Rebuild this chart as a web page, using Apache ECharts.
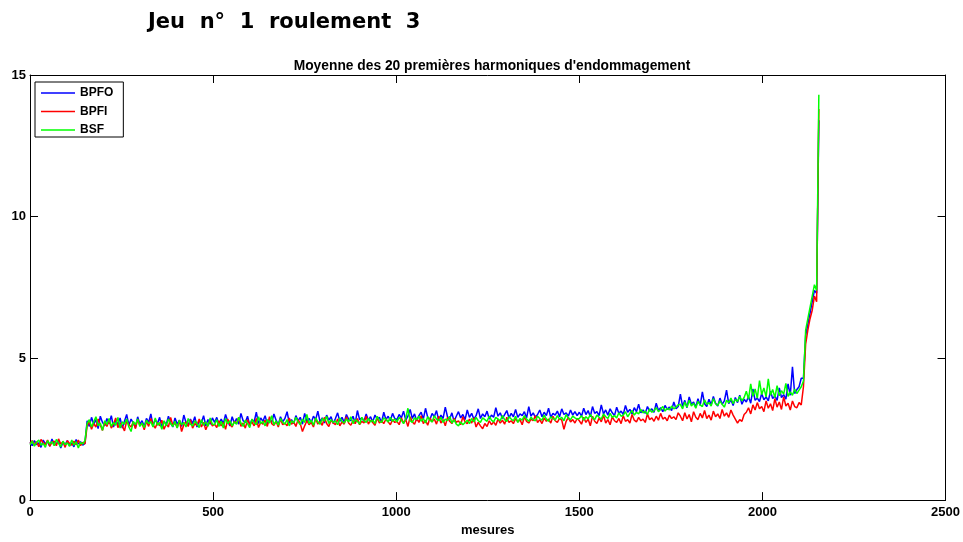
<!DOCTYPE html>
<html>
<head>
<meta charset="utf-8">
<script src="https://cdn.jsdelivr.net/npm/echarts@6/dist/echarts.min.js"></script>
<style>
html,body{margin:0;padding:0;background:#fff;}
#c{width:963px;height:542px;}
</style>
</head>
<body>
<div id="c"></div>
<script>
// Pas entre deux mesures échantillonnées (lecture du graphique)
const pas = 6;

const bpfo = [
2.04,1.92,2.10,1.96,2.02,1.86,2.12,1.98,2.06,1.90,2.16,1.94,2.00,2.08,1.84,2.04,1.96,2.10,1.92,2.02,1.88,2.14,1.98,2.06,1.94,2.00,
2.80,2.60,2.92,2.68,2.84,2.52,2.96,2.74,2.62,2.88,
2.70,2.98,2.58,2.82,2.66,2.90,2.54,2.78,3.02,2.64,
2.86,2.72,2.56,2.94,2.68,2.80,2.60,2.88,2.74,3.04,
2.62,2.84,2.70,2.92,2.56,2.78,2.66,2.96,2.72,2.58,
2.90,2.68,2.82,2.60,3.00,2.74,2.64,2.86,2.70,2.94,
2.58,2.80,2.72,2.98,2.62,2.84,2.68,2.90,
2.74,2.92,2.66,2.86,2.70,3.02,2.78,2.62,2.94,2.72,
2.88,2.68,3.06,2.80,2.74,2.96,2.64,2.84,2.76,3.10,
2.70,2.90,2.78,2.98,2.68,2.86,2.74,3.04,2.82,2.66,
2.94,2.76,2.88,3.12,2.72,2.84,2.70,2.98,2.80,2.92,
2.68,3.06,2.78,2.88,2.74,2.96,2.84,3.14,2.76,2.90,
2.72,3.00,2.82,2.94,2.70,2.88,3.08,2.78,2.92,2.74,
3.02,2.86,2.80,2.96,2.72,3.16,2.84,2.90,2.78,3.04,
2.82,2.94,2.76,3.00,2.86,2.92,2.74,3.10,2.84,2.96,
2.80,3.06,2.88,
2.84,3.02,2.90,3.14,2.82,2.96,3.20,2.88,3.04,2.80,
2.98,3.10,2.86,3.24,2.92,2.84,3.06,2.94,3.16,2.82,
3.00,2.88,3.28,2.94,2.86,3.08,2.78,2.96,3.12,2.90,
3.02,2.84,3.18,2.92,3.06,2.86,2.98,3.22,2.88,3.04,
2.94,3.14,2.86,3.00,2.92,3.26,2.96,3.08,2.88,3.02,
3.16,2.90,3.06,2.94,3.20,2.92,3.04,2.98,3.12,2.90,
3.30,2.96,3.08,2.92,3.02,3.18,2.94,3.10,2.98,3.24,
2.92,3.06,3.00,3.14,2.94,3.22,3.02,3.08,2.96,3.18,
3.00,3.12,2.98,
3.10,2.96,3.24,3.02,3.16,2.94,3.30,3.06,3.12,2.98,
3.36,3.04,3.18,3.00,3.22,3.08,2.98,3.28,3.06,3.14,
3.02,3.34,3.10,3.20,3.04,3.26,3.12,3.38,3.08,3.18,
3.06,3.30,3.14,3.22,3.10,3.42,3.16,3.26,3.12,3.34,
3.20,3.28,3.16,3.46,3.22,3.30,
3.74,3.30,3.52,3.26,3.64,3.38,3.46,3.28,3.58,3.34,
3.82,3.40,3.30,3.56,3.36,3.66,3.42,3.32,3.60,3.38,
3.50,3.88,3.40,3.54,3.34,3.62,3.44,3.70,3.38,3.56,
3.46,3.66,3.42,3.92,3.52,3.60,3.48,3.76,3.54,3.64,
3.50,3.84,3.58,3.68,3.52,3.96,3.62,3.72,3.56,4.10,
3.70,4.70,3.76,3.90,4.00,4.30,
4.30,5.80,6.20,6.60,7.00,7.40,7.30,13.40
];

const bpfi = [
2.00,2.10,1.94,2.06,1.88,2.14,2.02,1.96,2.12,1.90,2.04,2.08,1.92,2.16,1.98,2.06,1.86,2.10,2.00,1.94,2.08,1.96,2.12,1.92,2.04,1.98,
2.62,2.78,2.50,2.70,2.58,2.86,2.64,2.46,2.74,2.60,
2.82,2.54,2.68,2.90,2.56,2.72,2.62,2.44,2.80,2.66,
2.58,2.76,2.52,2.84,2.64,2.70,2.48,2.78,2.60,2.88,
2.66,2.54,2.74,2.62,2.82,2.50,2.68,2.58,2.92,2.64,
2.72,2.56,2.80,2.42,2.66,2.76,2.60,2.84,2.54,2.70,
2.64,2.86,2.58,2.74,2.48,2.68,2.80,2.62,
2.68,2.56,2.80,2.62,2.74,2.50,2.86,2.66,2.58,2.78,
2.70,2.92,2.60,2.72,2.54,2.84,2.66,2.76,2.62,2.88,
2.56,2.74,2.68,2.82,2.60,2.94,2.70,2.64,2.78,2.58,
2.86,2.66,2.72,2.62,2.90,2.68,2.76,2.60,2.84,2.70,
2.42,2.62,2.80,2.66,2.74,2.58,2.88,2.68,2.78,2.64,
2.92,2.70,2.60,2.82,2.72,2.66,2.86,2.62,2.76,2.68,
2.94,2.72,2.64,2.80,2.70,2.88,2.66,2.78,2.72,2.96,
2.68,2.82,2.74,2.64,2.90,2.72,2.80,2.70,2.86,2.76,
2.66,2.84,2.74,
2.78,2.66,2.90,2.72,2.84,2.60,2.94,2.76,2.68,2.88,
2.74,2.98,2.70,2.82,2.64,2.90,2.76,2.86,2.68,2.96,
2.72,2.84,2.62,2.92,2.78,2.70,2.88,2.74,2.80,2.66,
2.94,2.76,2.70,2.86,2.72,2.90,2.58,2.74,2.62,2.52,
2.70,2.60,2.80,2.66,2.76,2.64,2.86,2.72,2.82,2.68,
2.92,2.74,2.80,2.70,2.88,2.76,2.84,2.66,2.94,2.78,
2.72,2.86,2.80,2.98,2.74,2.84,2.70,2.90,2.78,2.86,
2.72,2.96,2.80,2.74,2.88,2.82,2.50,2.78,2.92,2.76,
2.84,2.72,2.88,
2.80,2.68,2.92,2.74,2.86,2.62,2.96,2.78,2.70,2.90,
2.76,3.00,2.72,2.84,2.66,2.94,2.80,2.74,2.88,2.70,
2.98,2.78,2.84,2.72,3.02,2.82,2.76,2.92,2.80,2.86,
2.74,3.04,2.84,2.90,2.78,2.96,2.82,3.06,2.86,2.92,
2.80,3.00,2.88,2.94,2.84,3.08,
2.96,2.80,3.08,2.86,3.02,2.76,3.12,2.92,2.84,3.06,
2.90,3.16,2.88,3.00,2.82,3.14,2.94,3.04,2.88,3.20,
2.96,3.08,2.92,3.18,3.00,2.86,2.72,2.84,2.78,3.02,
3.10,3.26,3.04,3.36,3.18,3.44,3.22,3.30,3.12,3.50,
3.24,3.40,3.16,3.58,3.28,3.46,3.20,3.64,3.32,3.42,
3.18,3.50,3.30,3.26,3.44,3.36,
4.00,5.50,6.00,6.40,6.70,7.20,7.00,13.80
];

const bsf = [
1.96,2.08,1.90,2.04,2.12,1.94,2.00,1.86,2.10,1.98,2.06,1.92,2.14,2.00,1.88,2.08,1.96,2.02,1.90,2.12,1.94,2.06,1.84,2.04,1.98,2.10,
2.70,2.84,2.58,2.76,2.94,2.62,2.72,2.46,2.80,2.66,
2.88,2.60,2.74,2.64,2.92,2.54,2.76,2.68,2.86,2.58,
2.42,2.78,2.66,2.86,2.60,2.72,2.56,2.82,2.70,2.76,
2.58,2.90,2.64,2.74,2.50,2.80,2.62,2.86,2.70,2.60,
2.78,2.54,2.82,2.66,2.74,2.58,2.88,2.68,2.62,2.80,
2.70,2.56,2.84,2.64,2.76,2.60,2.90,2.68,
2.66,2.84,2.60,2.78,2.54,2.88,2.70,2.80,2.62,2.76,
2.68,2.92,2.72,2.60,2.82,2.70,2.56,2.86,2.74,2.66,
2.94,2.70,2.78,2.62,2.84,2.72,2.98,2.66,2.80,2.64,
2.88,2.74,2.68,2.84,2.62,2.80,2.72,2.92,2.76,2.66,
2.86,2.74,3.02,2.70,2.82,2.64,2.90,2.76,2.68,2.88,
2.78,2.96,2.70,2.84,2.74,2.80,2.66,2.90,2.78,2.72,
2.86,2.76,2.94,2.70,2.84,2.78,2.68,2.92,2.80,2.74,
2.88,2.76,2.82,2.70,2.96,2.80,2.74,2.90,2.84,2.76,
2.92,2.78,2.86,
2.76,2.92,2.82,2.70,2.88,3.24,2.80,2.74,2.90,2.84,
2.96,2.78,2.88,2.72,2.94,2.82,2.76,2.98,2.86,2.80,
2.92,2.74,2.86,2.80,2.96,2.72,2.84,2.68,2.62,2.76,
2.66,2.74,2.82,2.70,2.88,2.76,2.92,2.80,2.74,2.90,
2.84,2.78,2.96,2.82,2.76,2.92,2.86,2.80,2.98,2.84,
2.78,2.94,2.86,2.80,2.96,2.74,2.88,2.82,2.98,2.86,
2.78,2.92,2.84,2.80,2.96,2.88,2.82,3.00,2.86,2.78,
2.94,2.88,2.82,2.98,2.86,2.92,2.80,3.02,2.88,2.84,
2.96,2.90,2.86,
2.88,2.98,2.82,2.94,2.86,3.02,2.90,2.84,3.00,2.92,
2.86,3.04,2.94,2.88,3.06,2.92,2.98,2.90,3.08,2.96,
3.00,3.12,2.94,3.06,3.16,3.00,3.10,3.04,3.20,3.08,
3.14,3.02,3.22,3.10,3.16,3.26,3.12,3.20,3.30,3.14,
3.24,3.18,3.32,3.22,3.28,3.36,
3.38,3.22,3.46,3.28,3.52,3.32,3.42,3.24,3.48,3.36,
3.30,3.54,3.38,3.44,3.32,3.58,3.40,3.34,3.50,3.38,
3.28,3.52,3.44,3.60,3.40,3.56,3.48,3.66,3.50,3.62,
3.84,3.56,4.10,3.66,3.92,3.60,4.22,3.72,3.96,3.64,
4.28,3.70,3.90,3.62,4.04,3.68,3.86,3.74,4.12,3.66,
3.82,3.70,3.92,3.76,3.88,4.00,
4.20,6.00,6.40,6.80,7.20,7.60,7.40,14.30
];

const seriesNames = ['BPFO', 'BPFI', 'BSF'];
const seriesColors = ['#0000ff', '#ff0000', '#00ff00'];
const xTicks = [0, 500, 1000, 1500, 2000, 2500];
const yTicks = [0, 5, 10, 15];

const toPairs = arr => arr.map((v, i) => [i * pas, v]);

const chart = echarts.init(document.getElementById('c'), null, {renderer: 'canvas'});
const lbl = {fontFamily: 'Liberation Sans, Arial, sans-serif', fontWeight: 'bold', fontSize: 13, color: '#000'};
const axisCommon = {
  axisLine: {show: true, onZero: false, lineStyle: {color: '#000', width: 1}},
  axisTick: {show: true, inside: true, length: 8, lineStyle: {color: '#000', width: 1}},
  splitLine: {show: false}
};
const dataSets = [bpfo, bpfi, bsf];
chart.setOption({
  animation: false,
  backgroundColor: '#fff',
  title: [
    {text: 'Jeu  n°  1  roulement  3', left: 143, top: 7,
     textStyle: {fontFamily: 'DejaVu Sans, sans-serif', fontWeight: 'bold', fontSize: 21, color: '#000'}},
    {text: "Moyenne des 20 premières harmoniques d'endommagement", left: 487, top: 54, textAlign: 'center',
     textStyle: {fontFamily: 'Liberation Sans, Arial, sans-serif', fontWeight: 'bold', fontSize: 13.8, color: '#000'}}
  ],
  legend: {
    left: 35, top: 82, orient: 'vertical',
    backgroundColor: '#fff', borderColor: '#000', borderWidth: 1,
    padding: [5, 10, 1, 6], itemWidth: 34, itemHeight: 12, itemGap: 6.5,
    textStyle: {fontFamily: 'Liberation Sans, Arial, sans-serif', fontWeight: 'bold', fontSize: 12, color: '#000'},
    data: seriesNames.map((n, i) => ({
      name: n, icon: 'path://M0,0h34v1.3h-34z',
      itemStyle: {color: seriesColors[i], borderWidth: 0},
      lineStyle: {color: seriesColors[i]}
    }))
  },
  grid: {left: 30, right: 16, top: 75, bottom: 36, containLabel: false},
  xAxis: [
    Object.assign({type: 'value', min: xTicks[0], max: xTicks[xTicks.length - 1], interval: 500, position: 'bottom',
      name: 'mesures', nameLocation: 'middle', nameGap: 23, nameTextStyle: lbl,
      axisLabel: Object.assign({margin: 6, formatter: v => String(v)}, lbl)}, axisCommon),
    Object.assign({type: 'value', min: xTicks[0], max: xTicks[xTicks.length - 1], interval: 500, position: 'top',
      axisLabel: {show: false}}, axisCommon)
  ],
  yAxis: [
    Object.assign({type: 'value', min: yTicks[0], max: yTicks[yTicks.length - 1], interval: 5, position: 'left',
      axisLabel: Object.assign({margin: 4, formatter: v => String(v)}, lbl)}, axisCommon),
    Object.assign({type: 'value', min: yTicks[0], max: yTicks[yTicks.length - 1], interval: 5, position: 'right',
      axisLabel: {show: false}}, axisCommon)
  ],
  series: seriesNames.map((n, i) => ({
    name: n, type: 'line', data: toPairs(dataSets[i]), symbol: 'none', showSymbol: false,
    lineStyle: {color: seriesColors[i], width: 1.5}, itemStyle: {color: seriesColors[i]}
  }))
});
</script>
</body>
</html>
